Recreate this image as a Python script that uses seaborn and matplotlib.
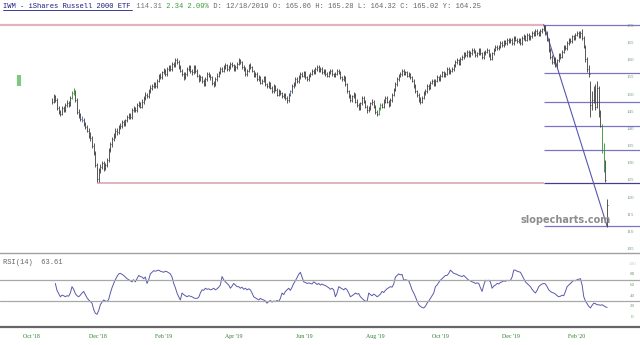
import numpy as np
import matplotlib
matplotlib.use('Agg')
import matplotlib.pyplot as plt
import seaborn as sns

# daily bars, one per trading day (Nov '18 -> Mar '20)
closes = [
    148, 149.5, 148.5, 146, 145, 144.5, 146, 145.5, 147, 147.5, 147, 149, 150.5, 151, 148.5, 145, 144, 143, 142.5, 141.5,
    140.5, 139.5, 138, 137.5, 135, 133, 129.5, 125.5, 128, 129, 130, 128.5, 129.5, 131, 134, 135.5, 137, 138, 139.5, 139,
    140.5, 141, 142, 141.5, 142.5, 143.5, 144, 143.5, 145.5, 146, 145.5, 147, 147.5, 146.5, 148, 149, 150, 149.5, 151, 152,
    152.5, 153, 152.5, 154, 155.5, 155, 156.5, 157, 156, 157.5, 158, 157.5, 159, 158.5, 160, 159.5, 158, 157, 156, 155,
    156, 157.5, 158, 157, 156.5, 158, 157, 155.5, 154.5, 155, 154, 153, 154.5, 156, 155.5, 155, 153.5, 153, 154.5, 155.5,
    156.5, 157.5, 157, 158, 158.5, 157.5, 158, 159, 158.5, 157.5, 158, 159, 160, 159.5, 158, 157.5, 156, 157, 158.5, 158,
    157, 155.5, 156, 154.5, 155, 153.5, 154, 155, 153, 152.5, 153.5, 152, 151, 152.5, 151.5, 150, 151, 150.5, 149.5, 150,
    149, 148.5, 150, 151, 152.5, 153, 154.5, 154, 155, 156, 155.5, 156.5, 155, 154.5, 155.5, 156, 157, 156.5, 157.5, 158,
    157, 157.5, 156.5, 157, 156, 155.5, 156.5, 157, 156, 155.5, 156, 157, 156.5, 155, 154.5, 155, 153, 151, 149.5, 148.5,
    149.5, 150, 148, 147, 146, 147.5, 149, 148, 146.5, 145.5, 146, 147.5, 148, 146.5, 145, 144.5, 146, 147, 146.5, 148,
    149, 148, 147, 148.5, 150, 151.5, 153, 154.5, 155.5, 156, 157, 156, 156.5, 155.5, 156, 155, 154, 152.5, 151, 150,
    148.5, 148, 149, 150.5, 151, 152.5, 152, 153.5, 154, 153, 154, 155, 154.5, 155.5, 156.5, 155.5, 156, 157.5, 156.5, 157,
    157.5, 158.5, 159.5, 160, 159, 160.5, 161, 162, 161.5, 162.5, 161.5, 162, 163, 162.5, 161.5, 162, 163, 162, 161, 162,
    162.5, 163, 161.5, 160.5, 162, 163, 164, 163.5, 164, 165, 164.5, 165.5, 165, 166, 165.5, 166, 165, 166.5, 166, 165.5,
    166, 165, 166.5, 167, 166, 167.5, 166.5, 167, 168, 167.5, 168.5, 168, 167.5, 168.5, 169, 170, 168, 166, 163, 161,
    159.5, 160.5, 158.5, 160, 161.5, 161, 162.5, 164, 163.5, 165, 166, 165.5, 167, 166.5, 167.5, 168, 167, 168,
    166.5, 164, 160.5, 157.5, 156, 147, 148.5, 151.5, 146.5, 152, 145, 141, 134, 128, 125, 118,
]
highs = [
    149, 150.2, 150, 148.9, 146.8, 145.6, 146.7, 146.6, 147.6, 148.3, 148.1, 149.6, 151.2, 152, 151.5, 149, 145.8, 144.6, 143.8, 143.2,
    142, 141.2, 140.2, 139, 138, 136, 133.6, 130, 128.6, 129.8, 130.8, 130.7, 130.2, 131.6, 134.6, 136.3, 137.6, 138.8, 140.2, 140.2,
    141.2, 141.8, 142.6, 142.7, 143, 144.2, 144.8, 144.6, 146, 146.8, 146.5, 147.6, 148.2, 147.9, 148.6, 149.6, 150.7, 150.6, 151.6, 152.7,
    153.2, 153.8, 153.6, 154.6, 156, 156.2, 157, 157.8, 157.5, 158, 158.7, 158.6, 159.6, 159.6, 160.7, 160.6, 160, 158.6, 157.6, 156.6,
    156.6, 158, 158.7, 158.5, 157.6, 158.6, 158.5, 157.4, 156, 155.6, 155.5, 154.6, 155, 156.6, 156.5, 156, 155.5, 154, 155, 156.2,
    157, 158, 158, 158.6, 159.2, 158.8, 158.6, 159.6, 159.5, 158.8, 158.6, 159.5, 160.6, 160.5, 159.8, 158.5, 158, 157.6, 159, 159.1,
    158.4, 157.3, 156.6, 156.5, 155.6, 155.5, 154.6, 155.5, 155.4, 153.5, 154, 153.8, 152.4, 153, 152.9, 151.8, 151.6, 151.4, 150.8, 150.6,
    150.4, 149.6, 150.5, 151.5, 153, 153.6, 155, 155, 155.6, 156.5, 156.5, 157, 156.8, 155.4, 156, 156.6, 157.6, 157.5, 158, 158.6,
    158.5, 158, 158, 157.6, 157.4, 156.5, 157, 157.6, 157.5, 156.4, 156.5, 157.5, 157.6, 156.8, 155.4, 155.6, 155.5, 153.5, 151.5, 150.2,
    150, 150.8, 150.5, 148.6, 147.5, 148, 149.6, 149.5, 148.4, 147, 146.6, 148, 148.7, 148.5, 147, 145.6, 146.5, 147.6, 147.5, 148.6,
    149.6, 149.5, 148.5, 149, 150.6, 152, 153.6, 155, 156, 156.7, 157.6, 157.5, 157, 157, 156.6, 156.4, 155.5, 154.5, 153, 151.5,
    150.5, 149.2, 149.5, 151, 151.6, 153, 153, 154, 154.6, 154.5, 154.5, 155.6, 155.5, 156, 157, 157, 156.6, 158, 158, 157.6,
    158, 159, 160, 160.6, 160.5, 161, 161.6, 162.5, 162.5, 163, 163, 162.6, 163.5, 163.5, 163, 162.5, 163.6, 163.5, 162.4, 162.6,
    163, 163.6, 163.4, 162, 162.5, 163.5, 164.6, 164.5, 164.6, 165.5, 165.5, 166, 166, 166.5, 166.4, 166.6, 166.4, 167, 167, 166.5,
    166.6, 166.5, 167, 167.6, 167.5, 168, 168, 167.5, 168.6, 168.5, 169, 169, 168.5, 169, 169.5, 170.4, 170.2, 168.5, 166.5, 163.5,
    161.5, 161, 161, 160.5, 162, 162, 163, 164.5, 164.6, 165.5, 166.5, 166.6, 167.5, 167.5, 168, 168.6, 168.5, 168.6,
    169, 167, 164.5, 161, 158.5, 154, 151, 152.5, 153, 154, 152.5, 145.5, 141.5, 136, 131, 119.5,
]
lows = [
    147.2, 147.6, 148, 145.6, 144.3, 143.8, 144, 145, 145, 146.5, 146.4, 146.6, 148.6, 150, 148, 144.5, 143.3, 142.4, 141.9, 140.8,
    139.9, 139, 137.5, 136.6, 134.4, 132.4, 128.8, 124.5, 124.6, 127.2, 128.3, 127.8, 128, 129, 130.4, 133.4, 134.8, 136.4, 137.5, 138.3,
    138.4, 139.9, 140.4, 141, 140.9, 142, 143, 143, 143, 145, 145, 145, 146.4, 146, 146, 147.4, 148.5, 149, 149, 150.5,
    151.4, 152, 151.8, 152, 153.6, 154.5, 154.6, 156, 155.4, 155.5, 157, 157, 157, 158, 158, 159, 157.5, 156.5, 155.4, 154.4,
    154.5, 155.5, 157, 156.4, 155.8, 156, 156.4, 155, 153.8, 154, 153.4, 152.4, 152.6, 154, 155, 154.4, 152.8, 152.3, 152.6, 154,
    155, 156, 156.6, 156.6, 157.6, 157, 157, 157.6, 158, 157, 157, 157.5, 158.6, 159, 157.5, 157, 155.5, 155.5, 156.6, 157.5,
    156.5, 155, 155, 154, 154, 153, 153, 153.6, 152.6, 152, 152, 151.6, 150.5, 150.5, 151, 149.5, 149.6, 150, 149, 149,
    148.4, 147.6, 148, 149.5, 150.5, 152, 152.6, 153.5, 153.5, 154.6, 155, 155, 154.6, 154, 154, 155, 155.6, 156, 156, 157,
    156.5, 156.6, 156, 156, 155.5, 155, 155, 156, 155.5, 155, 155, 155.6, 156, 154.5, 154, 154, 152.5, 150.5, 149, 147.8,
    148, 149, 147.5, 146.4, 145.4, 145.5, 147, 147.5, 146, 144.8, 145, 145.5, 147, 146, 144.4, 143.8, 144, 145.5, 146, 146,
    147.5, 147.6, 146.4, 146.6, 148, 149.6, 151, 152.5, 154, 155, 155.5, 155.6, 155.6, 155, 155, 154.5, 153.6, 152, 150.5, 149.4,
    148, 147.3, 147.5, 148.6, 150, 150.6, 151.5, 151.6, 153, 152.5, 152.6, 153.6, 154, 154, 155, 155, 155, 155.6, 156, 156,
    156.5, 157, 158, 159, 158.5, 158.6, 160, 160.5, 161, 161, 161, 161, 161.6, 162, 161, 161, 161.5, 161.6, 160.5, 160.5,
    161.5, 162, 161, 160, 160, 161.6, 162.6, 163, 163, 163.6, 164, 164, 164.6, 164.6, 165, 165, 164.5, 164.6, 165.5, 165,
    165, 164.5, 164.6, 166, 165.5, 165.6, 166, 166, 166.5, 167, 167, 167.5, 167, 167, 168, 168.6, 167.5, 165.5, 162.5, 160.5,
    159, 159, 158, 158, 159.5, 160.5, 160.6, 162, 163, 163, 164.6, 165, 165, 166, 166, 167, 166.5, 166.6,
    166, 163.5, 159.5, 156.5, 155, 143.5, 145.5, 147.5, 145.5, 146, 143.5, 140.5, 133, 127.5, 124.5, 111.5,
]

# RSI(14), starting at the third bar
rsi = [
    63, 50, 44, 38, 41, 40, 38, 40, 39, 45, 57, 52, 44, 40, 38, 41, 45, 48, 42, 36,
    32, 29, 26, 14, 7, 5, 12, 23, 28, 32, 30, 29, 33, 45, 55, 63, 70, 76, 81, 82,
    80, 78, 75, 72, 70, 68, 66, 70, 66, 72, 78, 76, 75, 72, 75, 63, 70, 81, 84, 87,
    86, 87, 88, 86, 85, 84, 86, 85, 83, 81, 75, 63, 55, 45, 38, 32, 45, 42, 40, 38,
    40, 39, 38, 36, 35, 35, 37, 45, 51, 50, 54, 52, 53, 51, 52, 54, 51, 53, 56, 60,
    76, 70, 66, 63, 60, 54, 58, 63, 60, 57, 57, 54, 56, 52, 54, 51, 53, 51, 45, 38,
    36, 34, 32, 35, 33, 32, 30, 26, 29, 31, 28, 30, 29, 31, 29, 35, 45, 42, 48, 51,
    54, 50, 56, 63, 68, 74, 80, 84, 75, 66, 65, 63, 64, 63, 62, 66, 64, 61, 63, 60,
    62, 60, 59, 57, 55, 52, 54, 51, 38, 45, 57, 55, 53, 51, 54, 51, 45, 38, 40, 42,
    45, 43, 44, 38, 35, 32, 30, 29, 45, 42, 40, 43, 41, 38, 40, 43, 48, 46, 50, 53,
    55, 57, 56, 62, 75, 78, 81, 79, 80, 69, 70, 69, 68, 60, 51, 45, 38, 30, 23, 20,
    18, 17, 20, 26, 30, 35, 40, 45, 57, 60, 65, 69, 72, 75, 78, 78, 82, 88, 85, 82,
    81, 80, 78, 77, 76, 78, 75, 72, 69, 68, 66, 65, 63, 64, 63, 55, 48, 60, 69, 68,
    69, 66, 54, 58, 60, 63, 62, 65, 66, 68, 67, 69, 68, 69, 75, 88, 88, 86, 85, 84,
    78, 72, 66, 63, 60, 57, 52, 48, 45, 50, 57, 60, 62, 63, 62, 57, 51, 48, 46, 45,
    43, 40, 38, 39, 41, 40, 48, 57, 60, 63, 66, 69, 68, 70, 71, 72, 60, 38, 30, 25,
    20, 17, 22, 26, 25, 23, 23, 22, 23, 21, 19, 18,
]

green_bars = [12, 13, 196, 197, 330, 331]
blue_bars = [18, 143]

fib_levels = [170.4, 156.4, 147.8, 140.8, 134.0, 124.4, 111.7]
dec_low = 124.4
high_bar = 295
low_bar = 333
dec_low_bar = 27

month_labels = ["Oct '18", "Dec '18", "Feb '19", "Apr '19", "Jun '19", "Aug '19", "Oct '19", "Dec '19", "Feb '20"]
month_pos = [-12.2, 27.4, 67.2, 109.2, 151.2, 193.8, 233.2, 275.2, 314.8]

price_ticks = list(range(105, 171, 5))
rsi_ticks = [0, 20, 40, 60, 80]

sns.set_style('white')
plt.rcParams['font.family'] = ['DejaVu Sans']

W, H = 640, 345
fig = plt.figure(figsize=(6.4, 3.45), dpi=100)
ax = fig.add_axes([0, 1 - 253 / H, 1, (253 - 22) / H])
ax2 = fig.add_axes([0, 1 - 327 / H, 1, (327 - 253) / H])

n = len(closes)
x = np.arange(n)
cols = ['#3c3c3c'] * n
for i in green_bars:
    cols[i] = '#2f8f2f'
for i in blue_bars:
    cols[i] = '#4a60c8'

xmin, xmax = -52 / 1.667, (W - 52) / 1.667
ax.set_xlim(xmin, xmax)
ax.set_ylim(170 - 227 / 3.433, 170 + 4 / 3.433)

# support / resistance + fib lines
ax.hlines(fib_levels[0], xmin, high_bar, color='#e0b4bc', lw=1.6, zorder=1)
ax.hlines(dec_low, dec_low_bar, high_bar, color='#d8a8b0', lw=1.2, zorder=1)
for lv in fib_levels:
    col = '#4a3c8c' if lv == dec_low else '#7a74c8'
    ax.hlines(lv, high_bar, xmax, color=col, lw=0.9, zorder=1)
ax.plot([high_bar, low_bar], [fib_levels[0], fib_levels[-1]], color='#5a56b0', lw=0.8, zorder=1)

# HLC bars
ax.vlines(x, lows, highs, colors=cols, lw=0.6, zorder=3)
ax.hlines(closes, x, x + 0.5, colors=cols, lw=0.6, zorder=3)
ax.vlines(-19.8, 152.5, 155.7, colors='#7fc87f', lw=3, zorder=3)

tr = ax.get_yaxis_transform()
for t in price_ticks:
    ax.text(630 / W, t, str(t), transform=tr, ha='center', va='center',
            fontsize=3.6, color='#6f9a6f', family='Liberation Serif')
ax.set_xticks([])
ax.set_yticks([])
for s in ax.spines.values():
    s.set_visible(False)

# RSI panel
sns.lineplot(x=np.arange(2, 2 + len(rsi)), y=rsi, ax=ax2, color='#5a5aaa', lw=0.7)
ax2.set_xlim(xmin, xmax)
ax2.set_ylim((317 - 327) / 0.5325, (317 - 253) / 0.5325)
ax2.axhline(70, color='#a8a8a8', lw=0.9)
ax2.axhline(30, color='#a8a8a8', lw=0.9)
tr2 = ax2.get_yaxis_transform()
for t in rsi_ticks:
    ax2.text(632 / W, t, str(t), transform=tr2, ha='center', va='center',
             fontsize=3.6, color='#6f9a6f', family='Liberation Serif')
ax2.text(632 / W, 100, '100', transform=tr2, ha='center', va='center',
         fontsize=3.6, color='#c8c8c8', family='Liberation Serif')
ax2.set_xticks(month_pos)
ax2.set_xticklabels(month_labels, fontsize=4.2, color='#2f7f2f', family='Liberation Serif')
ax2.tick_params(axis='x', length=0, pad=5)
ax2.set_yticks([])
for s in ax2.spines.values():
    s.set_visible(False)
ax2.spines['top'].set_visible(True)
ax2.spines['top'].set_color('#a0a0a0')
ax2.spines['top'].set_linewidth(1.0)
ax2.spines['bottom'].set_visible(True)
ax2.spines['bottom'].set_color('#666666')
ax2.spines['bottom'].set_linewidth(1.6)

# header
cw = 4.29
mono = 'Liberation Mono'
parts = [("IWM - iShares Russell 2000 ETF", '#1c1c80'), (" 114.31", '#777777'),
         (" 2.34 2.09%", '#3a9a3a'),
         (" D: 12/18/2019 O: 165.06 H: 165.28 L: 164.32 C: 165.02 Y: 164.25", '#666666')]
pos = 0
for txt, col in parts:
    fig.text((3 + pos * cw) / W, 1 - 7 / H, txt, ha='left', va='center',
             fontsize=5.15, color=col, family=mono)
    pos += len(txt)
fig.add_artist(plt.Line2D([3 / W, (3 + 30 * cw) / W], [1 - 9.5 / H, 1 - 9.5 / H],
                          color='#1c1c80', lw=0.6))
fig.text(3 / W, 1 - 262 / H, "RSI(14)  63.61", ha='left', va='center',
         fontsize=5.15, color='#666666', family=mono)
fig.text(566 / W, 1 - 220 / H, 'slopecharts.com', ha='center', va='center',
         fontsize=7, fontweight='bold', color='#8c8c8c')

plt.savefig('out.png', dpi=100)
